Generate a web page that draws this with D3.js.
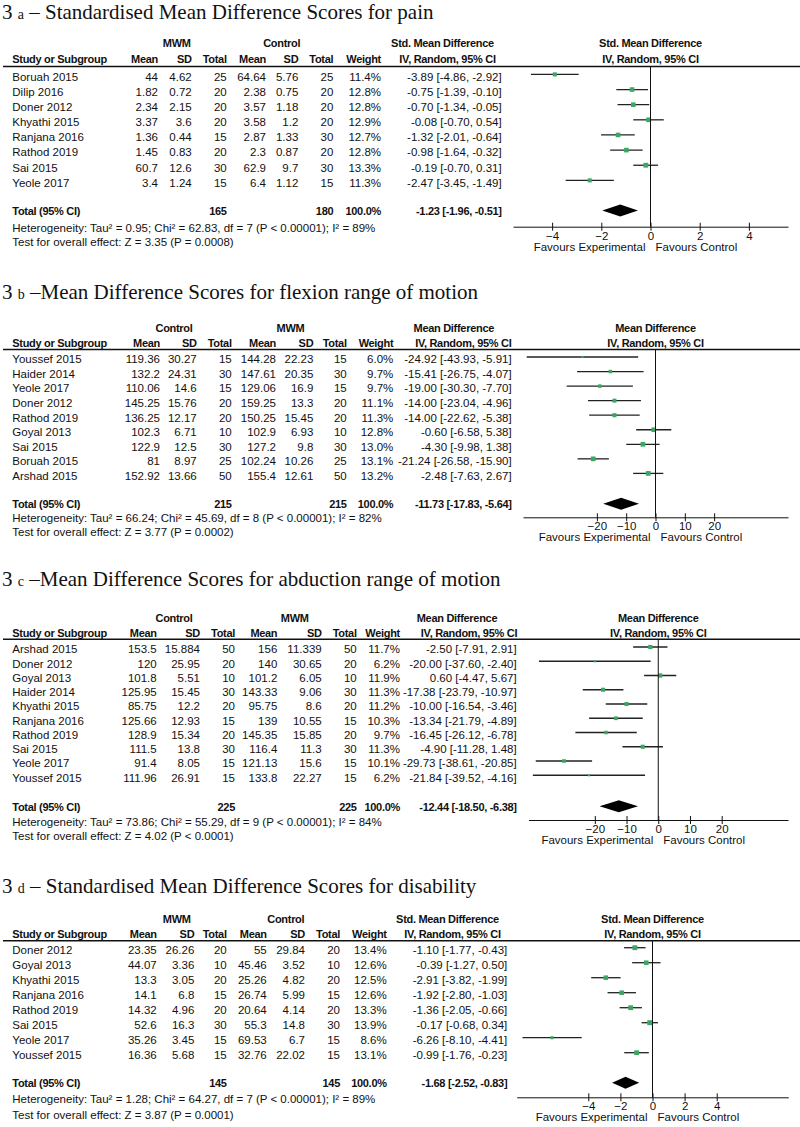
<!DOCTYPE html>
<html><head><meta charset="utf-8">
<script src="https://cdn.jsdelivr.net/npm/d3@7"></script>
<style>
body{margin:0;background:#fff}
svg{display:block}
.t{font-family:"Liberation Sans",Arial,sans-serif;font-size:11.5px;fill:#111}
.b{font-weight:bold;font-size:11px;letter-spacing:-0.3px}
.ttl{font-family:"Liberation Serif","Times New Roman",serif;font-size:21px;fill:#111}
</style></head><body>
<script>
// ---------- Panel a: pain (SMD) ----------
const painStudy=["Boruah 2015","Dilip 2016","Doner 2012","Khyathi 2015","Ranjana 2016","Rathod 2019","Sai 2015","Yeole 2017"];
const painG1Mean=[44,1.82,2.34,3.37,1.36,1.45,60.7,3.4];
const painG1SD=[4.62,0.72,2.15,3.6,0.44,0.83,12.6,1.24];
const painG1N=[25,20,20,20,15,20,30,15];
const painG2Mean=[64.64,2.38,3.57,3.58,2.87,2.3,62.9,6.4];
const painG2SD=[5.76,0.75,1.18,1.2,1.33,0.87,9.7,1.12];
const painG2N=[25,20,20,20,30,20,30,15];
const painWeight=[11.4,12.8,12.8,12.9,12.7,12.8,13.3,11.3];
const painEst=[-3.89,-0.75,-0.70,-0.08,-1.32,-0.98,-0.19,-2.47];
const painLo=[-4.86,-1.39,-1.34,-0.70,-2.01,-1.64,-0.70,-3.45];
const painHi=[-2.92,-0.10,-0.05,0.54,-0.64,-0.32,0.31,-1.49];
const painTotalN=[165,180];
const painPooled=[-1.23,-1.96,-0.51];
const painHet="Heterogeneity: Tau² = 0.95; Chi² = 62.83, df = 7 (P < 0.00001); I² = 89%";
const painTest="Test for overall effect: Z = 3.35 (P = 0.0008)";

// ---------- Panel b: flexion (MD) ----------
const flexStudy=["Youssef 2015","Haider 2014","Yeole 2017","Doner 2012","Rathod 2019","Goyal 2013","Sai 2015","Boruah 2015","Arshad 2015"];
const flexG1Mean=[119.36,132.2,110.06,145.25,136.25,102.3,122.9,81,152.92];
const flexG1SD=[30.27,24.31,14.6,15.76,12.17,6.71,12.5,8.97,13.66];
const flexG1N=[15,30,15,20,20,10,30,25,50];
const flexG2Mean=[144.28,147.61,129.06,159.25,150.25,102.9,127.2,102.24,155.4];
const flexG2SD=[22.23,20.35,16.9,13.3,15.45,6.93,9.8,10.26,12.61];
const flexG2N=[15,30,15,20,20,10,30,25,50];
const flexWeight=[6.0,9.7,9.7,11.1,11.3,12.8,13.0,13.1,13.2];
const flexEst=[-24.92,-15.41,-19.00,-14.00,-14.00,-0.60,-4.30,-21.24,-2.48];
const flexLo=[-43.93,-26.75,-30.30,-23.04,-22.62,-6.58,-9.98,-26.58,-7.63];
const flexHi=[-5.91,-4.07,-7.70,-4.96,-5.38,5.38,1.38,-15.90,2.67];
const flexTotalN=[215,215];
const flexPooled=[-11.73,-17.83,-5.64];
const flexHet="Heterogeneity: Tau² = 66.24; Chi² = 45.69, df = 8 (P < 0.00001); I² = 82%";
const flexTest="Test for overall effect: Z = 3.77 (P = 0.0002)";

// ---------- Panel c: abduction (MD) ----------
const abdStudy=["Arshad 2015","Doner 2012","Goyal 2013","Haider 2014","Khyathi 2015","Ranjana 2016","Rathod 2019","Sai 2015","Yeole 2017","Youssef 2015"];
const abdG1Mean=[153.5,120,101.8,125.95,85.75,125.66,128.9,111.5,91.4,111.96];
const abdG1SD=[15.884,25.95,5.51,15.45,12.2,12.93,15.34,13.8,8.05,26.91];
const abdG1N=[50,20,10,30,20,15,20,30,15,15];
const abdG2Mean=[156,140,101.2,143.33,95.75,139,145.35,116.4,121.13,133.8];
const abdG2SD=[11.339,30.65,6.05,9.06,8.6,10.55,15.85,11.3,15.6,22.27];
const abdG2N=[50,20,10,30,20,15,20,30,15,15];
const abdWeight=[11.7,6.2,11.9,11.3,11.2,10.3,9.7,11.3,10.1,6.2];
const abdEst=[-2.50,-20.00,0.60,-17.38,-10.00,-13.34,-16.45,-4.90,-29.73,-21.84];
const abdLo=[-7.91,-37.60,-4.47,-23.79,-16.54,-21.79,-26.12,-11.28,-38.61,-39.52];
const abdHi=[2.91,-2.40,5.67,-10.97,-3.46,-4.89,-6.78,1.48,-20.85,-4.16];
const abdTotalN=[225,225];
const abdPooled=[-12.44,-18.50,-6.38];
const abdHet="Heterogeneity: Tau² = 73.86; Chi² = 55.29, df = 9 (P < 0.00001); I² = 84%";
const abdTest="Test for overall effect: Z = 4.02 (P < 0.0001)";

// ---------- Panel d: disability (SMD) ----------
const disStudy=["Doner 2012","Goyal 2013","Khyathi 2015","Ranjana 2016","Rathod 2019","Sai 2015","Yeole 2017","Youssef 2015"];
const disG1Mean=[23.35,44.07,13.3,14.1,14.32,52.6,35.26,16.36];
const disG1SD=[26.26,3.36,3.05,6.8,4.96,16.3,3.45,5.68];
const disG1N=[20,10,20,15,20,30,15,15];
const disG2Mean=[55,45.46,25.26,26.74,20.64,55.3,69.53,32.76];
const disG2SD=[29.84,3.52,4.82,5.99,4.14,14.8,6.7,22.02];
const disG2N=[20,10,20,15,20,30,15,15];
const disWeight=[13.4,12.6,12.5,12.6,13.3,13.9,8.6,13.1];
const disEst=[-1.10,-0.39,-2.91,-1.92,-1.36,-0.17,-6.26,-0.99];
const disLo=[-1.77,-1.27,-3.82,-2.80,-2.05,-0.68,-8.10,-1.76];
const disHi=[-0.43,0.50,-1.99,-1.03,-0.66,0.34,-4.41,-0.23];
const disTotalN=[145,145];
const disPooled=[-1.68,-2.52,-0.83];
const disHet="Heterogeneity: Tau² = 1.28; Chi² = 64.27, df = 7 (P < 0.00001); I² = 89%";
const disTest="Test for overall effect: Z = 3.87 (P = 0.0001)";

// ---------- shared labels ----------
const smdTicks=[-4,-2,0,2,4];
const mdTicks=[-20,-10,0,10,20];
const colHeads=["Mean","SD","Total","Mean","SD","Total","Weight"];
const favLeft="Favours Experimental", favRight="Favours Control";

const panels=[
 {num:"3",let:"a",rest:" – Standardised Mean Difference Scores for pain",g1:"MWM",g2:"Control",measure:"Std. Mean Difference",
  study:painStudy,m1:painG1Mean,s1:painG1SD,n1:painG1N,m2:painG2Mean,s2:painG2SD,n2:painG2N,w:painWeight,est:painEst,lo:painLo,hi:painHi,
  tn:painTotalN,pool:painPooled,het:painHet,test:painTest,ticks:smdTicks,
  L:{titleY:19,h1:43.3,h2:59.5,line:66.5,row0:76.7,pitch:15.14,total:211,het:227.5,test:242,axisY:226.7,
     cols:[12.3,158,191.7,226.7,266,298.3,333.3,381,501.7],g1c:176.7,g2c:281.7,ch1:442.5,ch2:447.5,x0:513,x1:788,dom:5.59}},
 {num:"3",let:"b",rest:" –Mean Difference Scores for flexion range of motion",g1:"Control",g2:"MWM",measure:"Mean Difference",
  study:flexStudy,m1:flexG1Mean,s1:flexG1SD,n1:flexG1N,m2:flexG2Mean,s2:flexG2SD,n2:flexG2N,w:flexWeight,est:flexEst,lo:flexLo,hi:flexHi,
  tn:flexTotalN,pool:flexPooled,het:flexHet,test:flexTest,ticks:mdTicks,
  L:{titleY:299.3,h1:327.7,h2:342.7,line:349.5,row0:359.3,pitch:14.55,total:504.3,het:517.7,test:531.7,axisY:517.3,
     cols:[12.3,160,196.7,231.7,276,313.3,346.7,393.3,511.7],g1c:174,g2c:290.5,ch1:453.8,ch2:463.3,x0:523,x1:788,dom:45.2}},
 {num:"3",let:"c",rest:" –Mean Difference Scores for abduction range of motion",g1:"Control",g2:"MWM",measure:"Mean Difference",
  study:abdStudy,m1:abdG1Mean,s1:abdG1SD,n1:abdG1N,m2:abdG2Mean,s2:abdG2SD,n2:abdG2N,w:abdWeight,est:abdEst,lo:abdLo,hi:abdHi,
  tn:abdTotalN,pool:abdPooled,het:abdHet,test:abdTest,ticks:mdTicks,
  L:{titleY:586,h1:618,h2:632.7,line:639.3,row0:649.3,pitch:14.25,total:806.7,het:821.5,test:836,axisY:820,
     cols:[12.3,156.7,200,235,277.3,321.7,356.7,400,516.7],g1c:174,g2c:294.7,ch1:457,ch2:469,x0:528.5,x1:788,dom:40.9}},
 {num:"3",let:"d",rest:" – Standardised Mean Difference Scores for disability",g1:"MWM",g2:"Control",measure:"Std. Mean Difference",
  study:disStudy,m1:disG1Mean,s1:disG1SD,n1:disG1N,m2:disG2Mean,s2:disG2SD,n2:disG2N,w:disWeight,est:disEst,lo:disLo,hi:disHi,
  tn:disTotalN,pool:disPooled,het:disHet,test:disTest,ticks:smdTicks,
  L:{titleY:893,h1:919.3,h2:934,line:940.7,row0:950,pitch:15,total:1083.3,het:1099.3,test:1115,axisY:1097.3,
     cols:[12.3,156.7,194.3,226.7,266.7,305,340,386.7,507.3],g1c:176.7,g2c:285.8,ch1:447.5,ch2:452.5,x0:516.7,x1:788.3,dom:8.46}}
];

const svg=d3.select("body").append("svg").attr("width",800).attr("height",1127);
svg.append("rect").attr("width",800).attr("height",1127).attr("fill","#fff");
const fmt=v=>v.toFixed(2);
const ci=(e,l,h)=>`${fmt(e)} [${fmt(l)}, ${fmt(h)}]`;

function txt(g,x,y,s,anchor,bold){
  return g.append("text").attr("class","t"+(bold?" b":"")).attr("x",x).attr("y",y).attr("dy","0.35em")
    .attr("text-anchor",anchor||"start").text(s);
}

panels.forEach(p=>{
  const L=p.L, g=svg.append("g"), c=L.cols;
  // title
  const tt=g.append("text").attr("class","ttl").attr("x",2).attr("y",L.titleY);
  tt.append("tspan").text(p.num+" ");
  tt.append("tspan").attr("font-size","14px").text(p.let);
  tt.append("tspan").text(p.rest);
  // headers
  txt(g,L.g1c,L.h1,p.g1,"middle",true);
  txt(g,L.g2c,L.h1,p.g2,"middle",true);
  txt(g,L.ch1,L.h1,p.measure,"middle",true);
  txt(g,L.ch2,L.h2,"IV, Random, 95% CI","middle",true);
  const zx=(L.x0+L.x1)/2;
  txt(g,zx,L.h1,p.measure,"middle",true);
  txt(g,zx,L.h2,"IV, Random, 95% CI","middle",true);
  txt(g,c[0],L.h2,"Study or Subgroup","start",true);
  colHeads.forEach((h,i)=>txt(g,c[i+1],L.h2,h,"end",true));
  g.append("line").attr("x1",3).attr("x2",800).attr("y1",L.line).attr("y2",L.line).attr("stroke","#111").attr("stroke-width",1.4);

  // scales
  const x=d3.scaleLinear().domain([-L.dom,L.dom]).range([L.x0,L.x1]);
  const y=d3.scaleLinear().domain([0,1]).range([L.row0,L.row0+L.pitch]);

  // rows
  p.study.forEach((s,i)=>{
    const yy=y(i);
    txt(g,c[0],yy,s);
    [p.m1[i],p.s1[i],p.n1[i],p.m2[i],p.s2[i],p.n2[i]].forEach((v,k)=>txt(g,c[k+1],yy,String(v),"end"));
    txt(g,c[7],yy,p.w[i].toFixed(1)+"%","end");
    txt(g,c[8],yy,ci(p.est[i],p.lo[i],p.hi[i]),"end");
    const cy=yy-2.3;
    g.append("line").attr("x1",x(p.lo[i])).attr("x2",x(p.hi[i])).attr("y1",cy).attr("y2",cy)
      .attr("stroke","#222").attr("stroke-width",1.3);
    const sz=p.w[i]*0.36;
    g.append("rect").attr("x",x(p.est[i])-sz/2).attr("y",cy-sz/2).attr("width",sz).attr("height",sz).attr("fill","#3aa864");
  });

  // totals
  txt(g,c[0],L.total,"Total (95% CI)","start",true);
  txt(g,c[3],L.total,String(p.tn[0]),"end",true);
  txt(g,c[6],L.total,String(p.tn[1]),"end",true);
  txt(g,c[7],L.total,"100.0%","end",true);
  txt(g,c[8],L.total,ci(p.pool[0],p.pool[1],p.pool[2]),"end",true);
  txt(g,c[0],L.het,p.het);
  txt(g,c[0],L.test,p.test);

  // diamond
  const dy=L.total-0.5;
  g.append("path").attr("d",`M${x(p.pool[1])},${dy}L${x(p.pool[0])},${dy-6}L${x(p.pool[2])},${dy}L${x(p.pool[0])},${dy+6}Z`).attr("fill","#000");

  // zero line
  g.append("line").attr("x1",x(0)).attr("x2",x(0)).attr("y1",L.line).attr("y2",L.axisY).attr("stroke","#111").attr("stroke-width",1);

  // axis
  const ax=g.append("g").attr("transform",`translate(0,${L.axisY})`)
    .call(d3.axisBottom(x).tickValues(p.ticks).tickSize(4).tickSizeOuter(0).tickPadding(1).tickFormat(d3.format("d")));
  ax.select(".domain").attr("stroke","#111");
  ax.selectAll(".tick line").attr("y1",-4).attr("y2",4).attr("stroke","#111");
  ax.selectAll(".tick text").attr("class","t").attr("fill","#111").style("font-size","11.5px");
  // favours
  txt(g,x(0)-5,L.axisY+20,favLeft,"end");
  txt(g,x(0)+5,L.axisY+20,favRight,"start");
});
</script>
</body></html>
